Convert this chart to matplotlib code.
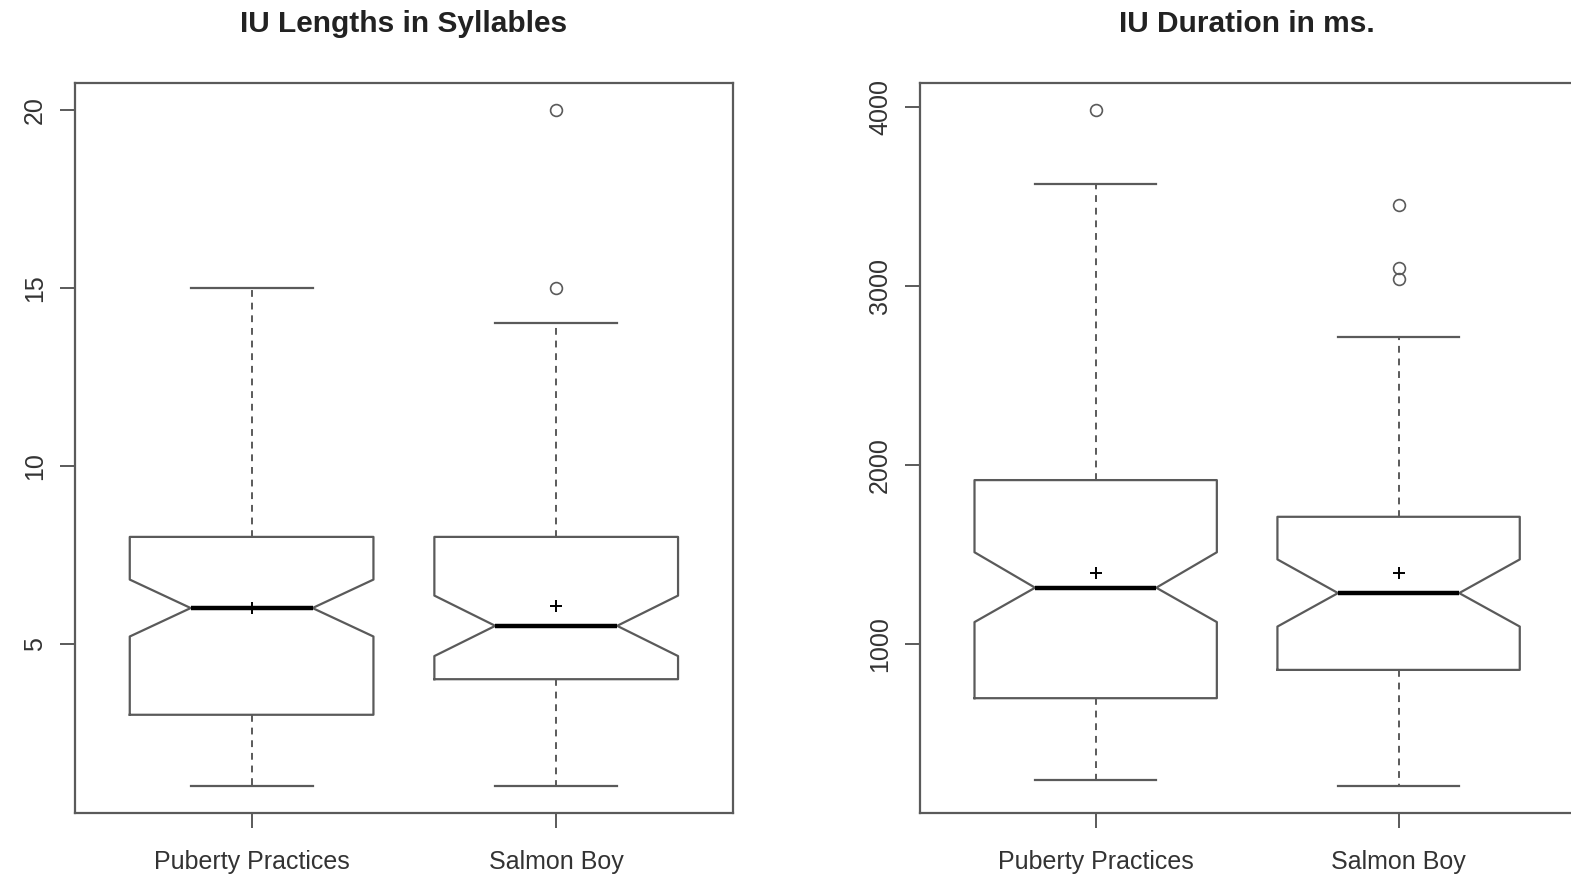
import matplotlib
matplotlib.use("Agg")
import matplotlib.pyplot as plt

plt.rcParams["font.family"] = ["Liberation Sans", "DejaVu Sans"]

groups = ["Puberty Practices", "Salmon Boy"]

# IU length in syllables
syl_whislo = [1, 1]
syl_q1 = [3, 4]
syl_med = [6, 5.5]
syl_q3 = [8, 8]
syl_whishi = [15, 14]
syl_cilo = [5.2, 4.65]
syl_cihi = [6.8, 6.35]
syl_mean = [6.0, 6.05]
syl_fliers = [[], [15, 20]]

# IU duration in ms
dur_whislo = [245, 210]
dur_q1 = [700, 858]
dur_med = [1317, 1287]
dur_q3 = [1918, 1713]
dur_whishi = [3570, 2715]
dur_cilo = [1125, 1100]
dur_cihi = [1515, 1475]
dur_mean = [1400, 1400]
dur_fliers = [[3985], [3040, 3100, 3455]]

LINE = "#5a5a5a"


def make_stats(whislo, q1, med, q3, whishi, cilo, cihi, mean, fliers):
    stats = []
    for i, label in enumerate(groups):
        stats.append(dict(label=label, whislo=whislo[i], q1=q1[i], med=med[i],
                          q3=q3[i], whishi=whishi[i], cilo=cilo[i],
                          cihi=cihi[i], mean=mean[i], fliers=fliers[i]))
    return stats


def notched_panel(ax, stats, title, yticks):
    ax.bxp(
        stats,
        positions=[1, 2],
        widths=0.8,
        shownotches=True,
        showmeans=True,
        boxprops=dict(color=LINE, linewidth=1.6),
        whiskerprops=dict(color=LINE, linewidth=1.4, linestyle=(0, (3.5, 3))),
        capprops=dict(color=LINE, linewidth=1.6),
        medianprops=dict(color="black", linewidth=3.2),
        meanprops=dict(marker="+", markersize=8, markeredgewidth=1.4,
                       markeredgecolor="black"),
        flierprops=dict(marker="o", markersize=8.5, markerfacecolor="none",
                        markeredgecolor=LINE, markeredgewidth=1.2),
    )
    # R style axis range: 4% padding around the data
    lo = min(s["whislo"] for s in stats)
    hi = max([s["whishi"] for s in stats] + [f for s in stats for f in s["fliers"]])
    pad = 0.04 * (hi - lo)
    ax.set_ylim(lo - pad, hi + pad)
    ax.set_xlim(0.42, 2.58)
    ax.set_yticks(yticks)
    ax.set_yticklabels([str(t) for t in yticks], rotation=90, va="center")
    ax.set_xticks([1, 2])
    ax.set_xticklabels(groups)
    ax.tick_params(axis="both", length=11, width=1.4, color=LINE,
                   labelsize=18, labelcolor="#333333")
    ax.tick_params(axis="x", pad=16)
    ax.tick_params(axis="y", pad=9)
    for sp in ax.spines.values():
        sp.set_color(LINE)
        sp.set_linewidth(1.6)
    ax.set_title(title, fontsize=21.5, fontweight="bold", pad=37, color="#222222")


fig = plt.figure(figsize=(15.71, 8.75), dpi=100)
ax1 = fig.add_axes([0.0477, 0.0709, 0.4188, 0.8343])
ax2 = fig.add_axes([0.5856, 0.0709, 0.4165, 0.8343])

notched_panel(ax1, make_stats(syl_whislo, syl_q1, syl_med, syl_q3, syl_whishi,
                              syl_cilo, syl_cihi, syl_mean, syl_fliers),
              "IU Lengths in Syllables", [5, 10, 15, 20])
notched_panel(ax2, make_stats(dur_whislo, dur_q1, dur_med, dur_q3, dur_whishi,
                              dur_cilo, dur_cihi, dur_mean, dur_fliers),
              "IU Duration in ms.", [1000, 2000, 3000, 4000])

fig.savefig("out.png", dpi=100)
